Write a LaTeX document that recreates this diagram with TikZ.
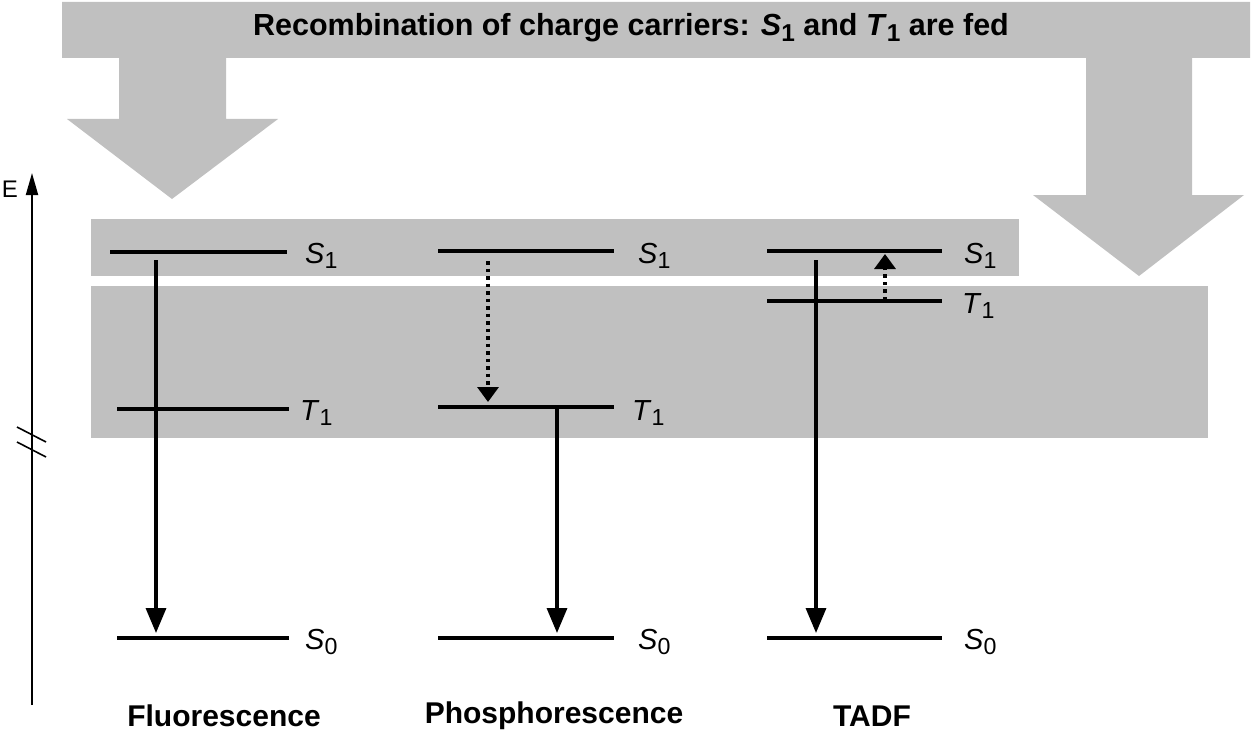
\documentclass[tikz,border=0pt]{standalone}
\usepackage{fontspec}
\setmainfont{Liberation Sans}
\usetikzlibrary{arrows.meta}
\definecolor{bandgray}{RGB}{192,192,192}
\tikzset{
  level/.style={line width=4.4pt},
  trans/.style={line width=3.4pt,-{Triangle[length=25pt,width=20pt]}},
  dottrans/.style={line width=3.4pt,dash pattern=on 3.5pt off 4pt,-{Triangle[length=15pt,width=21pt]}},
  lvlabel/.style={anchor=west,font=\fontsize{29}{29}\selectfont,inner sep=0pt},
  caption/.style={font=\fontsize{30}{30}\selectfont\bfseries,inner sep=0pt},
}
\newcommand{\lv}[2]{\textit{#1}\raisebox{-0.35ex}{\fontsize{0.8em}{1em}\selectfont #2}}
\begin{document}
\begin{tikzpicture}[x=1pt,y=-1pt]
\useasboundingbox (0,0) rectangle (1252,733);
% banner with two big arrows
\fill[bandgray] (62,2) -- (1250,2) -- (1250,58) -- (1192,58) -- (1192,195) -- (1244,195)
  -- (1139,276) -- (1033,195) -- (1086,195) -- (1086,58) -- (226,58) -- (226,119) -- (278,119)
  -- (172,199) -- (67,119) -- (119,119) -- (119,58) -- (62,58) -- cycle;
\node[font=\fontsize{30.5}{30.5}\selectfont\bfseries,inner sep=0pt] (title) at (631,28)
  {Recombination of charge carriers: \lv{S}{1} and \lv{T}{1} are fed};
% bands
\fill[bandgray] (91,219) rectangle (1019,276);
\fill[bandgray] (91,286) rectangle (1208,438);
% energy axis
\coordinate (ebot) at (32,705);
\coordinate (etop) at (32,173);
\draw[line width=1.8pt,-{Triangle[length=22pt,width=12pt]}] (ebot) -- (etop);
\node[font=\fontsize{24}{24}\selectfont,inner sep=0pt] (E) at (10,189) {E};
\draw[line width=1.6pt] (17,427) -- (46,442);
\draw[line width=1.6pt] (17,442) -- (46,457);
% Fluorescence
\coordinate (fS1a) at (110,252); \coordinate (fS1b) at (287,252);
\coordinate (fT1a) at (117,409); \coordinate (fT1b) at (289,409);
\coordinate (fS0a) at (117,638); \coordinate (fS0b) at (289,638);
\draw[level] (fS1a) -- (fS1b); \draw[level] (fT1a) -- (fT1b); \draw[level] (fS0a) -- (fS0b);
\node[lvlabel] (fS1l) at (305,256) {\lv{S}{1}};
\node[lvlabel] (fT1l) at (300,413) {\lv{T}{1}};
\node[lvlabel] (fS0l) at (305,642) {\lv{S}{0}};
\coordinate (fA) at (156,260); \coordinate (fB) at (156,633);
\draw[trans] (fA) -- (fB);
\node[caption] (fcap) at (224,716) {Fluorescence};
% Phosphorescence
\coordinate (pS1a) at (438,251); \coordinate (pS1b) at (614,251);
\coordinate (pT1a) at (438,407); \coordinate (pT1b) at (614,407);
\coordinate (pS0a) at (438,638); \coordinate (pS0b) at (614,638);
\draw[level] (pS1a) -- (pS1b); \draw[level] (pT1a) -- (pT1b); \draw[level] (pS0a) -- (pS0b);
\node[lvlabel] (pS1l) at (638,256) {\lv{S}{1}};
\node[lvlabel] (pT1l) at (632,413) {\lv{T}{1}};
\node[lvlabel] (pS0l) at (638,642) {\lv{S}{0}};
\coordinate (pD1) at (488,261); \coordinate (pD2) at (488,402);
\draw[dottrans] (pD1) -- (pD2);
\coordinate (pA) at (557,409); \coordinate (pB) at (557,633);
\draw[trans] (pA) -- (pB);
\node[caption] (pcap) at (554,716) {Phosphorescence};
% TADF
\coordinate (tS1a) at (767,251); \coordinate (tS1b) at (942,251);
\coordinate (tT1a) at (767,301); \coordinate (tT1b) at (942,301);
\coordinate (tS0a) at (767,638); \coordinate (tS0b) at (942,638);
\draw[level] (tS1a) -- (tS1b); \draw[level] (tT1a) -- (tT1b); \draw[level] (tS0a) -- (tS0b);
\node[lvlabel] (tS1l) at (964,256) {\lv{S}{1}};
\node[lvlabel] (tT1l) at (962,306) {\lv{T}{1}};
\node[lvlabel] (tS0l) at (964,642) {\lv{S}{0}};
\coordinate (tD1) at (885,300); \coordinate (tD2) at (885,254);
\draw[dottrans] (tD1) -- (tD2);
\coordinate (tA) at (816,260); \coordinate (tB) at (816,633);
\draw[trans] (tA) -- (tB);
\node[caption] (tcap) at (872,716) {TADF};
\end{tikzpicture}
\end{document}
